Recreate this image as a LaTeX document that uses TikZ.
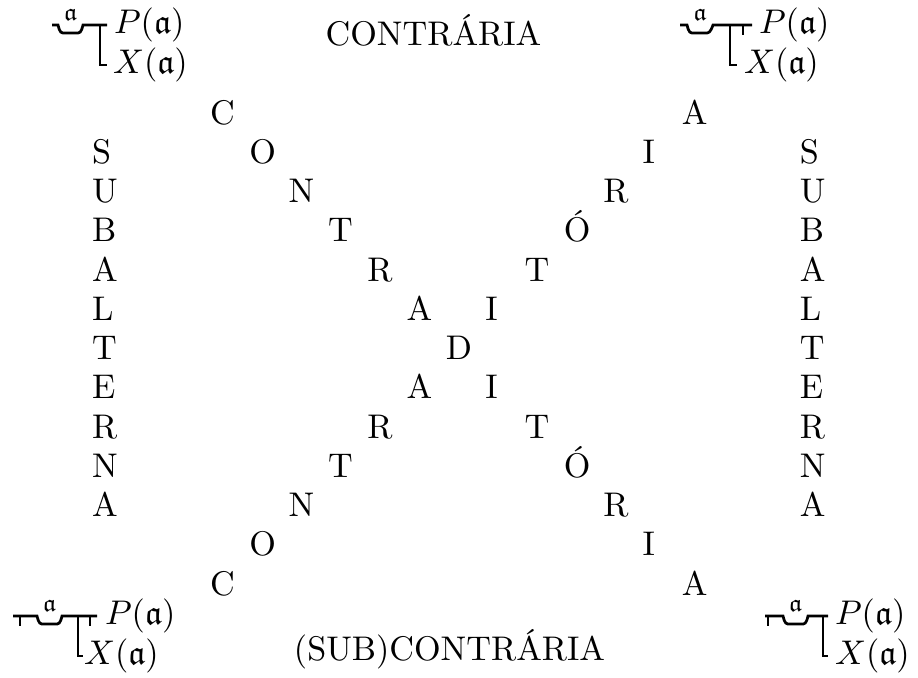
\documentclass[tikz,border=0pt]{standalone}
\usepackage{amssymb}
\begin{document}
\begin{tikzpicture}[x=0.2924pt,y=-0.2924pt,
  lt/.style={anchor=base west,inner sep=0pt,outer sep=0pt},
  ttl/.style={anchor=base,inner sep=0pt,outer sep=0pt},
  va/.style={anchor=base,inner sep=0pt,outer sep=0pt,font=\scriptsize},
  bs/.style={line width=0.8pt}]
\useasboundingbox (0,0) rectangle (918,677);
% titles
\node[ttl] (top) at (433.5,45) {CONTRÁRIA};
\node[ttl] (bot) at (449.5,660) {(SUB)CONTRÁRIA};
% diagonals
\foreach \l [count=\i from 0] in {C,O,N,T,R,A,D,I,T,Ó,R,I,A}{
  \node[lt] (da\i) at ({210+39.33*\i},{124+39.25*\i}) {\l};
  \ifnum\i=6\else
  \node[lt] (db\i) at ({210+39.33*\i},{124+39.25*(12-\i)}) {\l};
  \fi
}
% subalterna columns
\foreach \l [count=\i from 1] in {S,U,B,A,L,T,E,R,N,A}{
  \node[lt] (sl\i) at ({210-3*39.33},{124+39.25*\i}) {\l};
  \node[lt] (sr\i) at ({210+15*39.33},{124+39.25*\i}) {\l};
}
% top-left: all
\draw[bs] (52,25) -- (58,25) .. controls (60,33) and (61,33) .. (65,33) -- (76,33) .. controls (80,33) and (81,33) .. (83,25) -- (107,25);
\draw[bs] (100,25) -- (100,65) -- (107,65);
\node[va] (tla) at (70.5,20) {$\mathfrak{a}$};
\node[lt] (tlP) at (114,33.5) {$P(\mathfrak{a})$};
\node[lt] (tlX) at (113,73.5) {$X(\mathfrak{a})$};
% top-right: no
\draw[bs] (680,25) -- (687,25) .. controls (689,33) and (690,33) .. (694,33) -- (705,33) .. controls (709,33) and (710,33) .. (713,25) -- (752,25);
\draw[bs] (730,25) -- (730,65) -- (737,65);
\draw[bs] (743,25) -- (743,35);
\node[va] (tra) at (700,20) {$\mathfrak{a}$};
\node[lt] (trP) at (759,33.5) {$P(\mathfrak{a})$};
\node[lt] (trX) at (744,73.5) {$X(\mathfrak{a})$};
% bottom-left: some
\draw[bs] (13,616) -- (37,616) .. controls (39,624) and (40,624) .. (44,624) -- (55,624) .. controls (59,624) and (60,624) .. (62,616) -- (97,616);
\draw[bs] (20,616) -- (20,626);
\draw[bs] (78,616) -- (78,656) -- (83,656);
\draw[bs] (90,616) -- (90,626);
\node[va] (bla) at (49.5,611) {$\mathfrak{a}$};
\node[lt] (blP) at (105,624.5) {$P(\mathfrak{a})$};
\node[lt] (blX) at (84,664.5) {$X(\mathfrak{a})$};
% bottom-right: some not
\draw[bs] (765,616) -- (783,616) .. controls (785,624) and (786,624) .. (790,624) -- (801,624) .. controls (805,624) and (806,624) .. (808,616) -- (828,616);
\draw[bs] (768,616) -- (768,626);
\draw[bs] (823,616) -- (823,656) -- (828,656);
\node[va] (bra) at (795.5,611) {$\mathfrak{a}$};
\node[lt] (brP) at (835,624.5) {$P(\mathfrak{a})$};
\node[lt] (brX) at (835,664.5) {$X(\mathfrak{a})$};
\end{tikzpicture}
\end{document}
